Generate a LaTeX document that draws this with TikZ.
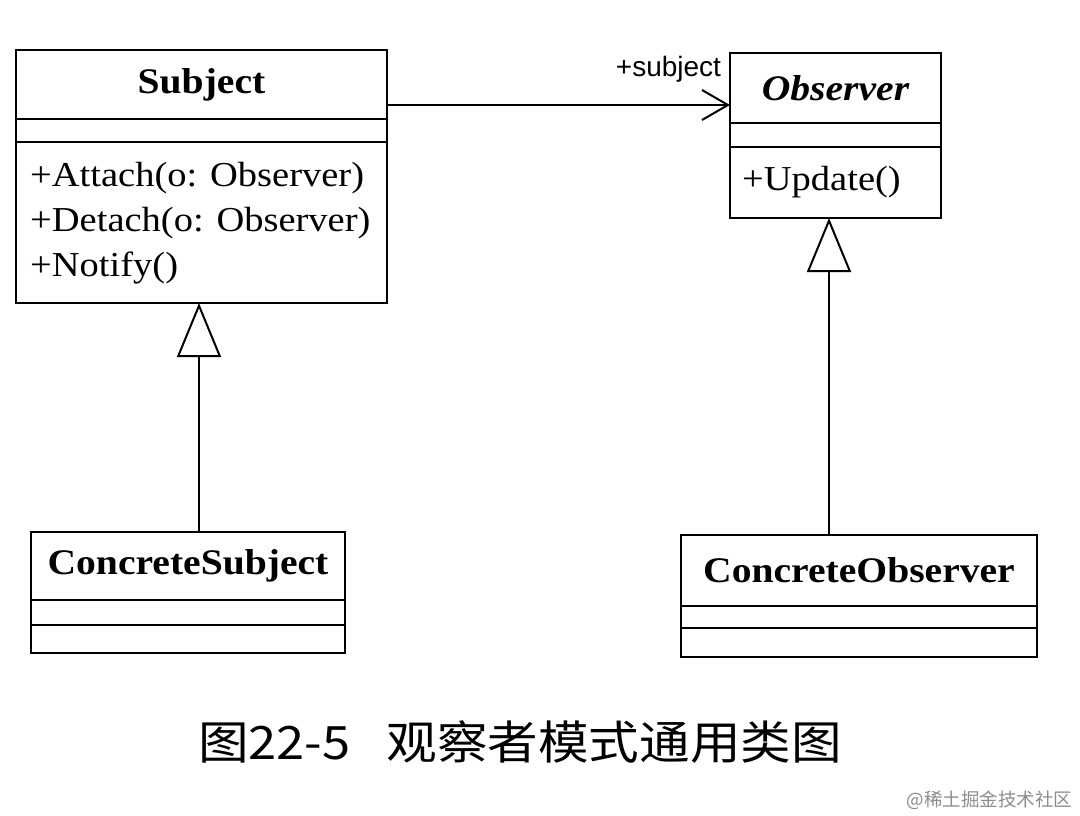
\documentclass[tikz,border=0pt]{standalone}
\usepackage{fontspec}
\setmainfont{Liberation Serif}[FakeStretch=1.1]
\newfontfamily\labelfont{Liberation Sans}
\newfontfamily\cjkfont{Noto Sans CJK SC}[FakeStretch=1.1]
\newfontfamily\markfont{Noto Sans CJK SC}
\usepackage{tikz}
\usetikzlibrary{arrows.meta}
\usetikzlibrary{calc}

\begin{document}
\begin{tikzpicture}[x=1pt,y=-1pt]
\tikzstyle{part}=[draw,line width=2pt,inner sep=0pt,outer sep=0pt]
\tikzstyle{title}=[font=\fontsize{36}{40}\selectfont\bfseries]
\tikzstyle{abstracttitle}=[font=\fontsize{36}{40}\selectfont\bfseries\itshape]
\tikzstyle{opstext}=[font=\fontsize{35}{45}\selectfont,align=left,anchor=west,inner sep=0pt]
\tikzstyle{inherit}=[line width=2pt,-{Triangle[open,length=54pt,width=44pt,line width=2pt]}]
\useasboundingbox (0,0) rectangle (1080,816);
% Subject
\node (subj) [part, title, minimum width=371pt, minimum height=69pt] at (201.5,84.5) {Subject};
\node (subjattr) [part, minimum width=371pt, minimum height=23pt] at (201.5,130.5) {};
\node (subjops) [part, minimum width=371pt, minimum height=161pt] at (201.5,222.5) {};
\node [opstext] at (subjops.west) [xshift=14pt, yshift=-1pt] {+Attach(o: Observer)\\+Detach(o: Observer)\\+Notify()};
% Observer
\node (obs) [part, abstracttitle, minimum width=211pt, minimum height=70pt] at (835.5,88) {Observer};
\node (obsattr) [part, minimum width=211pt, minimum height=24pt] at (835.5,135) {};
\node (obsops) [part, minimum width=211pt, minimum height=71pt] at (835.5,182.5) {};
\node [opstext] at (obsops.west) [xshift=12pt] {+Update()};
% ConcreteSubject
\node (csubj) [part, title, minimum width=314pt, minimum height=68pt] at (188,566) {ConcreteSubject};
\node (csubjattr) [part, minimum width=314pt, minimum height=25pt] at (188,612.5) {};
\node (csubjops) [part, minimum width=314pt, minimum height=28pt] at (188,639) {};
% ConcreteObserver
\node (cobs) [part, title, minimum width=356pt, minimum height=71pt] at (859,570.5) {ConcreteObserver};
\node (cobsattr) [part, minimum width=356pt, minimum height=22pt] at (859,617) {};
\node (cobsops) [part, minimum width=356pt, minimum height=29pt] at (859,642.5) {};
% association
\coordinate (assoc) at (0,105);
\draw [line width=2pt, -{Straight Barb[length=26pt,width=30pt,line width=2pt]}] (subj.east |- assoc) -- (obs.west |- assoc)
  node [anchor=south east, inner sep=0pt, xshift=-8pt, yshift=22pt, font=\labelfont\fontsize{28}{30}\selectfont] {+subject};
% generalization
\coordinate (subjx) at (199,0);
\coordinate (obsx) at (829,0);
\draw [inherit] (csubj.north -| subjx) -- (subjops.south -| subjx);
\draw [inherit] (cobs.north -| obsx) -- (obsops.south -| obsx);
% caption
\node (caption) [font=\cjkfont\fontsize{46}{50}\selectfont] at (520,742) {图22-5\hspace{36pt}观察者模式通用类图};
\node (mark) [font=\markfont\fontsize{18.5}{22}\selectfont, text=black!45, anchor=east] at (1076,800) {@稀土掘金技术社区};
\end{tikzpicture}
\end{document}
